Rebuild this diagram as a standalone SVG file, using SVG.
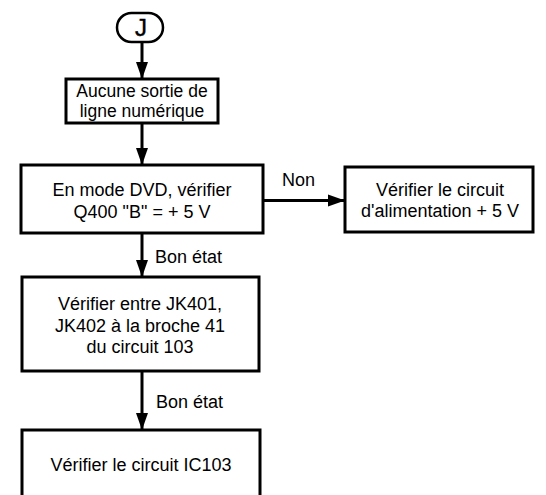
<svg xmlns="http://www.w3.org/2000/svg" width="546" height="495" viewBox="0 0 546 495">
  <style>
    .box { fill: #fff; stroke: #000; stroke-width: 3; }
    .term { fill: #fff; stroke: #000; stroke-width: 2.5; }
    .txt { font-family: "Liberation Sans", Arial, sans-serif; font-size: 18px; fill: #000; text-anchor: middle; }
    .lbl { font-family: "Liberation Sans", Arial, sans-serif; font-size: 18px; fill: #000; }
    .wire { stroke: #000; stroke-width: 3; fill: none; marker-end: url(#arrow); }
  </style>
  <defs>
    <marker id="arrow" markerUnits="userSpaceOnUse" markerWidth="18" markerHeight="13" refX="17" refY="6.5" orient="auto">
      <path d="M0,0.5 L17,6.5 L0,12.5 z" fill="#000"/>
    </marker>
  </defs>
  <rect width="546" height="495" fill="#fff"/>

  <g id="connectors">
    <line class="wire" x1="142" y1="42" x2="142" y2="79"/>
    <line class="wire" x1="142" y1="123" x2="142" y2="165"/>
    <line class="wire" x1="142" y1="233" x2="142" y2="277"/>
    <line class="wire" x1="142" y1="371" x2="142" y2="430"/>
    <line class="wire" x1="263" y1="200.5" x2="345" y2="200.5"/>
    <text class="lbl" x="282" y="186">Non</text>
    <text class="lbl" x="155" y="263">Bon état</text>
    <text class="lbl" x="156" y="408">Bon état</text>
  </g>

  <g id="start-J">
    <rect class="term" x="117" y="13" width="46" height="29" rx="14.5" ry="14.5"/>
    <text class="txt" x="141" y="36" style="font-size:24px;stroke:#000;stroke-width:0.4">J</text>
  </g>

  <g id="no-output">
    <rect class="box" x="66" y="79" width="152" height="44"/>
    <text class="txt" x="142" y="97" style="font-size:17.5px">Aucune sortie de</text>
    <text class="txt" x="142" y="117" style="font-size:17.5px">ligne numérique</text>
  </g>

  <g id="check-q400">
    <rect class="box" x="21" y="165" width="242" height="68"/>
    <text class="txt" x="142" y="196">En mode DVD, vérifier</text>
    <text class="txt" x="142" y="218">Q400 "B" = + 5 V</text>
  </g>

  <g id="check-supply">
    <rect class="box" x="345" y="167" width="188" height="65"/>
    <text class="txt" x="440" y="196">Vérifier le circuit</text>
    <text class="txt" x="440" y="217">d'alimentation + 5 V</text>
  </g>

  <g id="check-jk">
    <rect class="box" x="22" y="277" width="237" height="94"/>
    <text class="txt" x="140" y="310">Vérifier entre JK401,</text>
    <text class="txt" x="140" y="332">JK402 à la broche 41</text>
    <text class="txt" x="140" y="353">du circuit 103</text>
  </g>

  <g id="check-ic103">
    <rect class="box" x="22" y="430" width="238" height="80"/>
    <text class="txt" x="141" y="471">Vérifier le circuit IC103</text>
  </g>
</svg>
